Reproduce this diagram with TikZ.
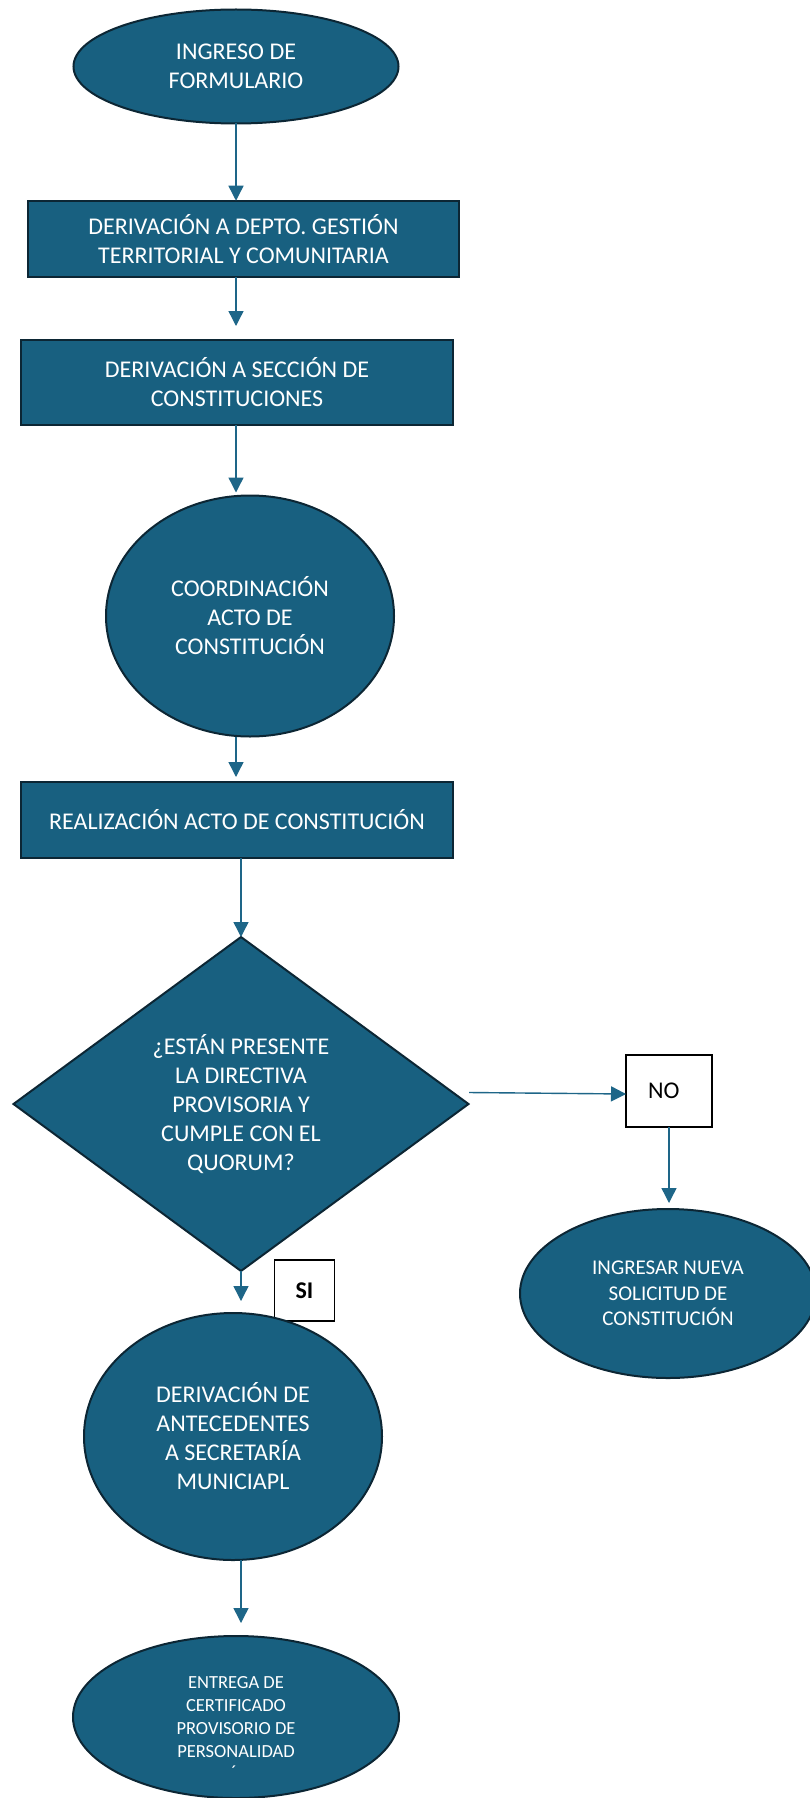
\documentclass[tikz,border=0pt]{standalone}
\usepackage{fontspec}
\setmainfont{Carlito}
\usetikzlibrary{shapes.geometric,arrows.meta}
\definecolor{fillc}{RGB}{24,96,128}
\definecolor{bordc}{RGB}{12,38,52}
\definecolor{arrc}{RGB}{30,102,136}
\tikzset{
  base/.style={draw=bordc, line width=2pt, fill=fillc, text=white,
    font=\fontsize{24}{29}\selectfont, align=center, inner sep=0pt, outer sep=0pt},
  procbox/.style={base, rectangle},
  oval/.style={base, ellipse},
  decision/.style={base, diamond},
  labelbox/.style={draw=black, line width=1.1pt, fill=white, text=black,
    font=\fontsize{24}{29}\selectfont, inner sep=0pt, outer sep=0pt},
  arr/.style={draw=arrc, line width=1.4pt, -{Triangle[length=15pt,width=15pt]}},
}
\begin{document}
\begin{tikzpicture}[x=1pt,y=-1pt]
\useasboundingbox (0,0) rectangle (809,1798);
\node[oval, minimum width=325pt, minimum height=114pt] (n1) at (236,66.5) {INGRESO DE\\FORMULARIO};
\node[procbox, minimum width=431pt, minimum height=76.5pt] (n2) at (243.5,239) {DERIVACIÓN A DEPTO. GESTIÓN\\TERRITORIAL Y COMUNITARIA};
\node[procbox, minimum width=432pt, minimum height=85pt] (n3) at (237,382.5) {DERIVACIÓN A SECCIÓN DE\\CONSTITUCIONES};
\node[oval, minimum width=288pt, minimum height=241pt] (n4) at (250,616) {COORDINACIÓN\\ACTO DE\\CONSTITUCIÓN};
\node[procbox, minimum width=432pt, minimum height=76pt] (n5) at (237,820) {REALIZACIÓN ACTO DE CONSTITUCIÓN};
\node[decision, minimum width=455pt, minimum height=334pt, aspect=1.36] (n6) at (241,1104) {¿ESTÁN PRESENTE\\LA DIRECTIVA\\PROVISORIA Y\\CUMPLE CON EL\\QUORUM?};
\node[labelbox, minimum width=86pt, minimum height=72pt, text width=42pt, align=left, inner xsep=22pt] (no) at (669,1091) {NO};
\node[oval, minimum width=296pt, minimum height=169pt, font=\fontsize{21}{25.5}\selectfont] (n7) at (668,1293.5) {INGRESAR NUEVA\\SOLICITUD DE\\CONSTITUCIÓN};
\node[labelbox, minimum width=60pt, minimum height=61pt, font=\bfseries\fontsize{24}{29}\selectfont] (si) at (304.5,1290.5) {SI};
\node[oval, minimum width=298pt, minimum height=247pt] (n8) at (233,1436.5) {DERIVACIÓN DE\\ANTECEDENTES\\A SECRETARÍA\\MUNICIAPL};
\node[oval, minimum width=326pt, minimum height=162pt, font=\fontsize{18.5}{23}\selectfont] (n9) at (236,1717) {ENTREGA DE\\CERTIFICADO\\PROVISORIO DE\\PERSONALIDAD};
\node[text=white, font=\fontsize{18.5}{23}\selectfont, inner sep=0pt] (acc) at (234,1772) {´};
\coordinate (nostart) at (469,1092.5);
\draw[arr] (n1.south) -- (n1.south |- n2.north);
\draw[arr, shorten >=14pt] (n2.south -| n1.south) -- (n1.south |- n3.north);
\draw[arr, shorten >=3pt] (n3.south -| n1.south) -- (n1.south |- n4.north);
\draw[arr, shorten >=5pt] (n4.south -| n1.south) -- (n1.south |- n5.north);
\draw[arr] (n5.south -| n6.north) -- (n6.north);
\draw[arr] (nostart) -- ([yshift=-3pt]no.west);
\draw[arr, shorten >=6pt] (no.south) -- (no.south |- n7.north);
\draw[arr, shorten >=12pt] (n6.south) -- (n6.south |- n8.north);
\draw[arr, shorten >=13pt] (n8.south -| n6.south) -- (n6.south |- n9.north);
\end{tikzpicture}
\end{document}
